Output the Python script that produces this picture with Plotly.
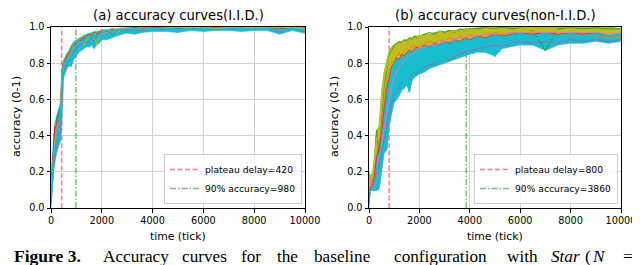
import plotly.graph_objects as go

# ---------------- data ----------------
T_A = [0, 50, 100, 150, 200, 250, 300, 350, 400, 450, 500, 600, 700, 800, 900, 1000,
       1100, 1200, 1300, 1400, 1500, 1600, 1700, 1800, 1900, 2000, 2200, 2400, 2600,
       2800, 3000, 3300, 3600, 4000, 4500, 5000, 5500, 6000, 6500, 7000, 7500, 8000,
       8500, 9000, 9500, 10000]
lower_a = [0.0, 0.12, 0.2, 0.25, 0.29, 0.32, 0.34, 0.36, 0.38, 0.55, 0.72, 0.76, 0.79, 0.78, 0.82, 0.84,
           0.86, 0.87, 0.88, 0.89, 0.89, 0.9, 0.88, 0.9, 0.91, 0.93, 0.93, 0.94, 0.95, 0.96, 0.965,
           0.96, 0.97, 0.975, 0.975, 0.97, 0.98, 0.975, 0.98, 0.98, 0.975, 0.98, 0.98, 0.96, 0.98, 0.965]
upper_a = [0.12, 0.3, 0.4, 0.47, 0.5, 0.53, 0.55, 0.56, 0.7, 0.8, 0.82, 0.85, 0.87, 0.9, 0.92, 0.93,
           0.94, 0.95, 0.955, 0.96, 0.965, 0.97, 0.975, 0.975, 0.98, 0.985, 0.985, 0.99, 0.99, 0.995,
           0.995, 1.0, 1.0, 1.0, 1.0, 1.0, 1.0, 1.0, 1.0, 1.0, 1.0, 1.0, 1.0, 1.0, 1.0, 1.0]
red_a = [0.05, 0.25, 0.33, 0.45, 0.44, 0.5, 0.52, 0.54, 0.62, 0.78, 0.8, 0.83, 0.85, 0.88, 0.9, 0.91,
         0.92, 0.93, 0.94, 0.95, 0.96, 0.95, 0.97, 0.96, 0.97, 0.98, 0.975, 0.985, 0.98, 0.99, 0.99,
         0.995, 0.99, 0.995, 1.0, 0.995, 1.0, 0.995, 1.0, 1.0, 0.995, 1.0, 1.0, 0.99, 1.0, 0.995]
purple_a = [0.02, 0.15, 0.22, 0.28, 0.33, 0.36, 0.4, 0.42, 0.5, 0.7, 0.76, 0.79, 0.82, 0.84, 0.86, 0.88,
            0.9, 0.9, 0.92, 0.91, 0.93, 0.94, 0.92, 0.95, 0.95, 0.96, 0.97, 0.96, 0.975, 0.98, 0.98,
            0.985, 0.98, 0.99, 0.985, 0.99, 0.99, 0.99, 0.995, 0.99, 0.99, 0.995, 0.99, 0.97, 0.99, 0.975]
olive_a = [0.06, 0.2, 0.3, 0.36, 0.4, 0.42, 0.45, 0.47, 0.6, 0.75, 0.79, 0.81, 0.84, 0.86, 0.89, 0.9,
           0.91, 0.92, 0.9, 0.93, 0.94, 0.95, 0.94, 0.9, 0.95, 0.96, 0.97, 0.98, 0.97, 0.985, 0.99,
           0.99, 0.995, 0.99, 0.995, 1.0, 0.995, 1.0, 0.99, 1.0, 1.0, 0.995, 1.0, 0.995, 1.0, 0.99]
orange_a = [0.08, 0.22, 0.28, 0.38, 0.42, 0.47, 0.48, 0.5, 0.66, 0.77, 0.81, 0.84, 0.86, 0.87, 0.91, 0.92,
            0.93, 0.94, 0.95, 0.94, 0.96, 0.965, 0.96, 0.97, 0.975, 0.98, 0.98, 0.99, 0.985, 0.99, 0.995,
            0.99, 1.0, 0.995, 0.995, 1.0, 0.995, 0.995, 1.0, 0.995, 1.0, 0.995, 0.995, 1.0, 0.995, 1.0]
cyan_a = [0.04, 0.18, 0.26, 0.33, 0.38, 0.42, 0.44, 0.48, 0.58, 0.74, 0.79, 0.82, 0.78, 0.85, 0.88, 0.9,
          0.92, 0.91, 0.93, 0.94, 0.95, 0.94, 0.96, 0.95, 0.96, 0.97, 0.98, 0.975, 0.985, 0.98, 0.99,
          0.99, 0.985, 0.99, 0.99, 0.985, 0.99, 0.99, 0.985, 0.99, 0.99, 0.99, 0.99, 0.98, 0.99, 0.98]

T_B = [0, 50, 100, 150, 200, 300, 400, 500, 600, 700, 800, 900, 1000, 1100, 1200, 1300, 1400,
       1500, 1600, 1700, 1800, 1900, 2000, 2200, 2400, 2600, 2800, 3000, 3200, 3400, 3600, 3800,
       4000, 4300, 4600, 5000, 5300, 5600, 6000, 6500, 7000, 7500, 8000, 8500, 9000, 9500, 10000]
lower_b = [0.0, 0.1, 0.1, 0.1, 0.1, 0.1, 0.1, 0.2, 0.3, 0.32, 0.45, 0.52, 0.58, 0.6, 0.62, 0.65, 0.66,
           0.68, 0.64, 0.7, 0.72, 0.73, 0.74, 0.75, 0.77, 0.78, 0.79, 0.8, 0.81, 0.82, 0.83, 0.84,
           0.85, 0.86, 0.86, 0.84, 0.88, 0.89, 0.9, 0.9, 0.87, 0.9, 0.91, 0.91, 0.92, 0.91, 0.92]
upper_b = [0.2, 0.18, 0.18, 0.2, 0.26, 0.43, 0.45, 0.64, 0.75, 0.82, 0.87, 0.89, 0.9, 0.91, 0.92, 0.92,
           0.93, 0.93, 0.94, 0.94, 0.95, 0.95, 0.95, 0.96, 0.96, 0.97, 0.97, 0.975, 0.98, 0.98, 0.985,
           0.99, 0.99, 0.995, 1.0, 1.0, 1.0, 1.0, 1.0, 1.0, 1.0, 1.0, 1.0, 1.0, 1.0, 1.0, 0.99]
olive_b = [0.1, 0.15, 0.16, 0.18, 0.22, 0.38, 0.4, 0.58, 0.72, 0.78, 0.83, 0.86, 0.88, 0.9, 0.89, 0.91,
           0.92, 0.91, 0.93, 0.92, 0.94, 0.93, 0.95, 0.95, 0.96, 0.95, 0.97, 0.96, 0.97, 0.98, 0.97,
           0.98, 0.985, 0.98, 0.99, 0.985, 0.99, 0.98, 0.99, 0.985, 0.99, 0.98, 0.99, 0.98, 0.985, 0.97, 0.98]
green_b = [0.05, 0.12, 0.14, 0.16, 0.2, 0.43, 0.3, 0.5, 0.68, 0.76, 0.84, 0.87, 0.9, 0.91, 0.92, 0.91,
           0.93, 0.92, 0.94, 0.93, 0.95, 0.94, 0.95, 0.96, 0.97, 0.96, 0.98, 0.97, 0.98, 0.97, 0.99,
           0.98, 0.99, 0.99, 0.995, 0.99, 1.0, 0.99, 0.995, 0.98, 0.87, 0.99, 0.995, 0.99, 0.995, 0.99, 0.99]
orange_b = [0.08, 0.12, 0.13, 0.15, 0.18, 0.3, 0.35, 0.45, 0.6, 0.7, 0.76, 0.8, 0.82, 0.84, 0.86, 0.83,
            0.87, 0.88, 0.87, 0.89, 0.9, 0.88, 0.9, 0.91, 0.92, 0.91, 0.93, 0.92, 0.94, 0.93, 0.95,
            0.94, 0.96, 0.95, 0.96, 0.97, 0.96, 0.97, 0.97, 0.96, 0.97, 0.96, 0.95, 0.96, 0.95, 0.94, 0.95]
red_b = [0.06, 0.11, 0.12, 0.13, 0.16, 0.28, 0.33, 0.42, 0.55, 0.66, 0.72, 0.78, 0.8, 0.83, 0.82, 0.85,
         0.84, 0.86, 0.87, 0.86, 0.88, 0.89, 0.88, 0.9, 0.89, 0.91, 0.9, 0.92, 0.91, 0.93, 0.92,
         0.94, 0.93, 0.95, 0.94, 0.96, 0.95, 0.96, 0.97, 0.96, 0.97, 0.96, 0.97, 0.96, 0.97, 0.95, 0.96]
purple_b = [0.02, 0.1, 0.1, 0.12, 0.14, 0.2, 0.25, 0.3, 0.38, 0.45, 0.52, 0.58, 0.62, 0.65, 0.67, 0.69,
            0.7, 0.72, 0.71, 0.74, 0.75, 0.74, 0.76, 0.78, 0.79, 0.8, 0.81, 0.83, 0.82, 0.84, 0.85,
            0.86, 0.87, 0.88, 0.89, 0.9, 0.89, 0.91, 0.92, 0.91, 0.92, 0.91, 0.93, 0.92, 0.93, 0.92, 0.93]
pink_b = [0.15, 0.17, 0.12, 0.1, 0.12, 0.2, 0.28, 0.35, 0.42, 0.5, 0.6, 0.68, 0.72, 0.75, 0.78, 0.8,
          0.82, 0.83, 0.84, 0.85, 0.86, 0.87, 0.88, 0.89, 0.9, 0.9, 0.91, 0.92, 0.92, 0.93, 0.94,
          0.94, 0.95, 0.95, 0.96, 0.96, 0.96, 0.97, 0.97, 0.97, 0.97, 0.97, 0.97, 0.97, 0.97, 0.96, 0.97]
cyan_b = [0.04, 0.1, 0.1, 0.1, 0.1, 0.1, 0.12, 0.25, 0.35, 0.32, 0.48, 0.55, 0.6, 0.65, 0.63, 0.68,
          0.7, 0.72, 0.64, 0.73, 0.75, 0.76, 0.77, 0.79, 0.8, 0.82, 0.81, 0.83, 0.84, 0.85, 0.86,
          0.87, 0.88, 0.89, 0.9, 0.84, 0.91, 0.92, 0.93, 0.94, 0.93, 0.95, 0.96, 0.95, 0.96, 0.95, 0.96]

plateau = [420, 800]
acc90 = [980, 3860]
titles = ["(a) accuracy curves(I.I.D.)", "(b) accuracy curves(non-I.I.D.)"]
x_ticks = [0, 2000, 4000, 6000, 8000, 10000]
x_ticktext = ["0", "2000", "4000", "6000", "8000", "10000"]
y_ticks = [0.0, 0.2, 0.4, 0.6, 0.8, 1.0]
caption_bold = "Figure 3."
caption_words = ["Accuracy", "curves", "for", "the", "baseline", "configuration", "with",
                 "<i>Star</i>", "(", "<i>N</i>", "="]

# ---------------- figure ----------------
W, H = 640, 265
TEAL, OLIVE = "#17becf", "#bcbd22"
fig = go.Figure()

def vlines(xa, ya, leg, p, a):
    fig.add_trace(go.Scatter(x=[p, p], y=[0, 1], mode="lines", xaxis=xa, yaxis=ya, legend=leg,
                             name=f"plateau delay={p}", hoverinfo="skip",
                             line=dict(color="rgba(255,0,0,0.5)", width=1.5, dash="5px,2.5px")))
    fig.add_trace(go.Scatter(x=[a, a], y=[0, 1], mode="lines", xaxis=xa, yaxis=ya, legend=leg,
                             name=f"90% accuracy={a}", hoverinfo="skip",
                             line=dict(color="rgba(0,128,0,0.5)", width=1.5, dash="6px,2px,1.5px,2px")))

def band(xa, ya, t, lo, hi, color, opacity=1.0):
    fig.add_trace(go.Scatter(x=t, y=lo, mode="lines", xaxis=xa, yaxis=ya, showlegend=False,
                             hoverinfo="skip", opacity=opacity, line=dict(width=0.6, color=color)))
    fig.add_trace(go.Scatter(x=t, y=hi, mode="lines", xaxis=xa, yaxis=ya, showlegend=False,
                             hoverinfo="skip", fill="tonexty", fillcolor=color, opacity=opacity,
                             line=dict(width=0.6, color=color)))

def line(xa, ya, t, v, color, w=1.0):
    fig.add_trace(go.Scatter(x=t, y=v, mode="lines", xaxis=xa, yaxis=ya, showlegend=False,
                             hoverinfo="skip", line=dict(width=w, color=color)))

# panel a
vlines("x", "y", "legend", plateau[0], acc90[0])
band("x", "y", T_A, lower_a, upper_a, TEAL)
line("x", "y", T_A, red_a, "#d62728")
line("x", "y", T_A, purple_a, "#9467bd")
line("x", "y", T_A, orange_a, "#ff7f0e")
line("x", "y", T_A, olive_a, OLIVE)
line("x", "y", T_A, cyan_a, TEAL, 1.5)

# panel b
vlines("x2", "y2", "legend2", plateau[1], acc90[1])
band("x2", "y2", T_B, lower_b, upper_b, TEAL)
band("x2", "y2", T_B, red_b, upper_b, OLIVE, 0.6)
line("x2", "y2", T_B, green_b, "#2ca02c")
line("x2", "y2", T_B, olive_b, OLIVE, 1.5)
line("x2", "y2", T_B, orange_b, "#ff7f0e")
line("x2", "y2", T_B, red_b, "#d62728", 0.8)
line("x2", "y2", T_B, pink_b, "#e377c2")
line("x2", "y2", T_B, purple_b, "#9467bd")
line("x2", "y2", T_B, cyan_b, TEAL, 1.5)

FONT = "DejaVu Sans"
ax_common = dict(showline=True, mirror=True, linecolor="black", linewidth=1, ticks="outside",
                 ticklen=3.5, tickcolor="black", tickwidth=1, showgrid=True, gridcolor="#d0d0d0",
                 gridwidth=1, zeroline=False, automargin=False,
                 tickfont=dict(family=FONT, size=9.7, color="black"))
xd1 = [43 / W, 297 / W]
xd2 = [361 / W, 613 / W]
yd = [65 / H, 246 / H]
leg_common = dict(y=(H - 196) / H, yanchor="bottom", xanchor="right",
                  bgcolor="rgba(255,255,255,0.85)", bordercolor="#cccccc", borderwidth=1,
                  font=dict(family=FONT, size=9.2, color="black"), tracegroupgap=0,
                  itemwidth=30, traceorder="normal")
fig.update_layout(
    width=W, height=H, margin=dict(l=0, r=0, t=0, b=0, autoexpand=False),
    paper_bgcolor="white", plot_bgcolor="white",
    xaxis=dict(domain=xd1, range=[0, 10000], tickvals=x_ticks, ticktext=x_ticktext, anchor="y", **ax_common),
    yaxis=dict(domain=yd, range=[0, 1], tickvals=y_ticks, tickformat=".1f", anchor="x", **ax_common),
    xaxis2=dict(domain=xd2, range=[0, 10000], tickvals=x_ticks, ticktext=x_ticktext, anchor="y2", **ax_common),
    yaxis2=dict(domain=yd, range=[0, 1], tickvals=y_ticks, tickformat=".1f", anchor="x2", **ax_common),
    legend=dict(x=294 / W, **leg_common),
    legend2=dict(x=610 / W, **leg_common),
    showlegend=True,
)

ann = []
for cx, title in [(170, titles[0]), (487, titles[1])]:
    ann.append(dict(text=title, x=cx / W, y=(H - 8) / H, xref="paper", yref="paper",
                    showarrow=False, xanchor="center", yanchor="middle",
                    font=dict(family=FONT, size=13.2, color="black")))
    ann.append(dict(text="time (tick)", x=cx / W, y=(H - 228) / H, xref="paper", yref="paper",
                    showarrow=False, xanchor="center", yanchor="middle",
                    font=dict(family=FONT, size=10.8, color="black")))
for lx in (8, 326):
    ann.append(dict(text="accuracy (0-1)", x=lx / W, y=(H - 109) / H, xref="paper", yref="paper",
                    showarrow=False, xanchor="center", yanchor="middle", textangle=-90,
                    font=dict(family=FONT, size=11.2, color="black")))

# caption (words centred at positions measured on the reference)
CAP_Y = 5.5 / H
ann.append(dict(text=f"<b>{caption_bold}</b>", x=39 / W, y=CAP_Y, xref="paper", yref="paper",
                showarrow=False, xanchor="center", yanchor="bottom",
                font=dict(family="Liberation Serif", size=17.5, color="black")))
word_cx = [128, 196, 243, 279, 334, 432, 514, 557, 580, 591, 620]
for wx, wd in zip(word_cx, caption_words):
    ann.append(dict(text=wd, x=wx / W, y=CAP_Y, xref="paper", yref="paper",
                    showarrow=False, xanchor="center", yanchor="bottom",
                    font=dict(family="Liberation Serif", size=17.2, color="black")))
fig.update_layout(annotations=ann)

fig.write_html("out.html")
